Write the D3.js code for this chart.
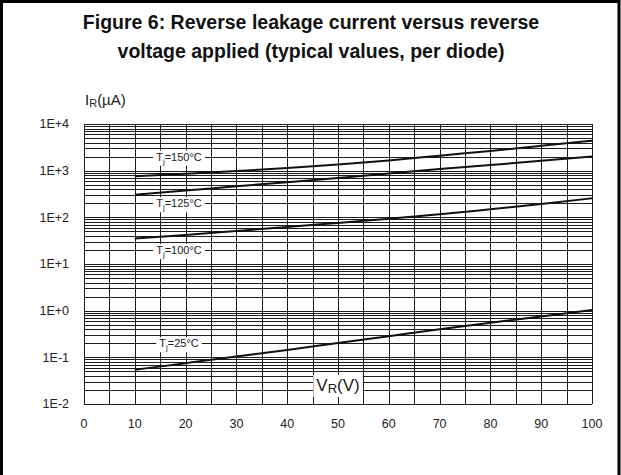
<!DOCTYPE html>
<html><head><meta charset="utf-8">
<script src="https://cdn.jsdelivr.net/npm/d3@7"></script>
<style>
html,body{margin:0;padding:0;background:#fff;}
svg{display:block;font-family:"Liberation Sans",Arial,sans-serif;}
</style></head>
<body>
<script>
// ---- data ----
const voltages = [10, 20, 30, 40, 50, 60, 70, 80, 90, 100];
const tj150 = [760, 860, 980, 1140, 1350, 1650, 2100, 2650, 3400, 4400];
const tj125 = [305, 375, 465, 565, 695, 865, 1080, 1320, 1630, 2000];
const tj100 = [35, 42, 51, 62, 76, 93, 116, 149, 193, 256];
const tj25  = [0.054, 0.075, 0.104, 0.144, 0.203, 0.284, 0.40, 0.55, 0.75, 1.03];
const seriesNames = ["150", "125", "100", "25"];
const labelValues = [2000, 200, 20, 0.2];   // gridline each label sits on
const xTicks = [0, 10, 20, 30, 40, 50, 60, 70, 80, 90, 100];
const yTickValues = [1e4, 1e3, 1e2, 1e1, 1e0, 1e-1, 1e-2];
const yTickLabels = ["1E+4", "1E+3", "1E+2", "1E+1", "1E+0", "1E-1", "1E-2"];

const W = 621, H = 475;
const svg = d3.select("body").append("svg").attr("width", W).attr("height", H);

// frame
svg.append("path").attr("d", `M1.5,${H} V1.5 H${W-2} V${H}`)
  .attr("fill", "none").attr("stroke", "#000").attr("stroke-width", 3);

// title
const title = svg.append("text").attr("text-anchor", "middle")
  .attr("font-weight", "bold").attr("font-size", 19.5).attr("fill", "#111");
title.append("tspan").attr("x", 311).attr("y", 29).text("Figure 6: Reverse leakage current versus reverse");
title.append("tspan").attr("x", 311).attr("y", 58).text("voltage applied (typical values, per diode)");

const x = d3.scaleLinear().domain([0, 100]).range([84, 592]);
const y = d3.scaleLog().domain([0.01, 10000]).range([404, 124]);

const grid = svg.append("g").attr("shape-rendering", "crispEdges");
// horizontal grid (decades + minor)
const hVals = [];
for (let d = -2; d < 4; d++) for (let k = 1; k < 10; k++) hVals.push(k * Math.pow(10, d));
hVals.push(1e4);
grid.selectAll("line.h").data(hVals).join("line")
  .attr("x1", x(0)).attr("x2", x(100))
  .attr("y1", d => Math.round(y(d)) + 0.5).attr("y2", d => Math.round(y(d)) + 0.5)
  .attr("stroke", "#1e1e1e").attr("stroke-width", 1);
// vertical grid every 5 V
grid.selectAll("line.v").data(d3.range(0, 101, 5)).join("line")
  .attr("x1", d => Math.round(x(d)) + 0.5).attr("x2", d => Math.round(x(d)) + 0.5)
  .attr("y1", y(1e4)).attr("y2", y(0.01))
  .attr("stroke", "#1e1e1e").attr("stroke-width", 1);

// y tick labels
svg.append("g").selectAll("text").data(yTickValues).join("text")
  .attr("x", 69).attr("y", d => y(d)).attr("dy", "0.35em")
  .attr("text-anchor", "end").attr("font-size", 12.5).attr("fill", "#222")
  .text((d, i) => yTickLabels[i]);
// x tick labels
svg.append("g").selectAll("text").data(xTicks).join("text")
  .attr("x", d => x(d)).attr("y", 428)
  .attr("text-anchor", "middle").attr("font-size", 12.5).attr("fill", "#222")
  .text(d => d);

// curves
const seriesData = [tj150, tj125, tj100, tj25];
const line = d3.line().x((d, i) => x(voltages[i])).y(d => y(d)).curve(d3.curveMonotoneX);
svg.append("g").selectAll("path").data(seriesData).join("path")
  .attr("d", line).attr("fill", "none").attr("stroke", "#111").attr("stroke-width", 2);

// labels with white background
function boxedLabel(g, cx, cy, build, padX, padY) {
  const grp = g.append("g");
  const rect = grp.append("rect").attr("fill", "#fff");
  const t = grp.append("text").attr("x", cx).attr("y", cy).attr("text-anchor", "middle");
  build(t);
  const bb = t.node().getBBox();
  rect.attr("x", bb.x - padX).attr("y", bb.y - padY)
    .attr("width", bb.width + 2 * padX).attr("height", bb.height + 2 * padY);
}
const labG = svg.append("g");
seriesNames.forEach((n, i) => {
  boxedLabel(labG, x(18.7), y(labelValues[i]) + 4, t => {
    t.attr("font-size", 11).attr("fill", "#222");
    t.append("tspan").text("T");
    t.append("tspan").attr("font-size", 8).attr("dy", 3).text("j");
    t.append("tspan").attr("dy", -3).text("=" + n + "°C");
  }, 3, 0);
});

// axis titles
boxedLabel(labG, x(50), 391, t => {
  t.attr("font-size", 17).attr("fill", "#222");
  t.append("tspan").text("V");
  t.append("tspan").attr("font-size", 13).attr("dy", 2).text("R");
  t.append("tspan").attr("dy", -2).text("(V)");
}, 3, 1);

const yl = svg.append("text").attr("x", 85).attr("y", 105).attr("font-size", 15).attr("fill", "#222");
yl.append("tspan").text("I");
yl.append("tspan").attr("font-size", 11).attr("dy", 2).text("R");
yl.append("tspan").attr("dy", -2).text("(µA)");
</script>
</body></html>
